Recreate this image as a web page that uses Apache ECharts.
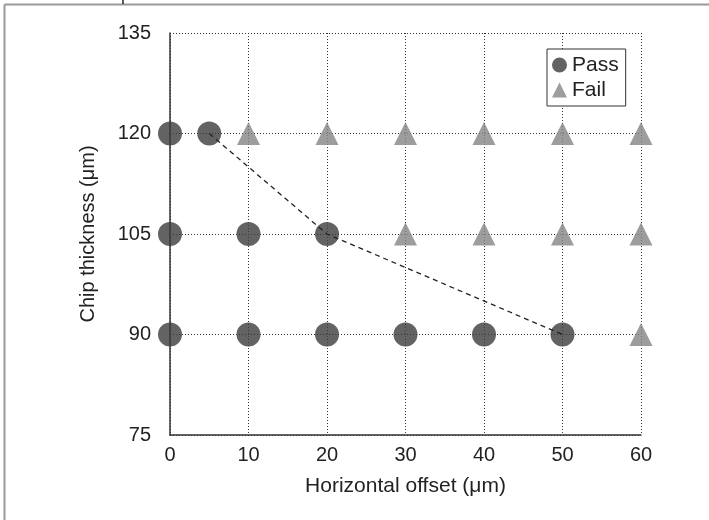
<!DOCTYPE html>
<html>
<head>
<meta charset="utf-8">
<script src="https://cdn.jsdelivr.net/npm/echarts@6/dist/echarts.min.js"></script>
<style>
html,body{margin:0;padding:0;background:#fff;}
#chart{width:709px;height:520px;}
</style>
</head>
<body>
<div id="chart"></div>
<script>
// Data
const xTicks = [0, 10, 20, 30, 40, 50, 60];
const yTicks = [75, 90, 105, 120, 135];
const passPoints = [[0,120],[5,120],[0,105],[10,105],[20,105],[0,90],[10,90],[20,90],[30,90],[40,90],[50,90]];
const failPoints = [[10,120],[20,120],[30,120],[40,120],[50,120],[60,120],[30,105],[40,105],[50,105],[60,105],[60,90]];
const boundary = [[5,120],[20,105],[50,90]];
const xTitle = 'Horizontal offset (\u03bcm)';
const yTitle = 'Chip thickness (\u03bcm)';

const font = '"Liberation Sans", Arial, Helvetica, sans-serif';
const chart = echarts.init(document.getElementById('chart'), null, {renderer:'canvas'});
chart.setOption({
  animation: false,
  backgroundColor: '#fff',
  textStyle: {fontFamily: font},
  grid: {left: 170, right: 68, top: 33, bottom: 85, containLabel: false},
  xAxis: {
    type: 'value', min: xTicks[0], max: xTicks[xTicks.length-1], interval: 10,
    name: xTitle, nameLocation: 'middle', nameGap: 41,
    nameTextStyle: {fontSize: 21, color: '#222', fontFamily: font},
    axisLine: {show: true, onZero: false, lineStyle: {color: '#333', width: 1.5}},
    axisTick: {show: false},
    axisLabel: {fontSize: 20, color: '#222', margin: 10, fontFamily: font},
    splitLine: {show: true, lineStyle: {color: '#333', width: 1, type: [1, 2]}}
  },
  yAxis: {
    type: 'value', min: yTicks[0], max: yTicks[yTicks.length-1], interval: 15,
    name: yTitle, nameLocation: 'middle', nameGap: 72, nameRotate: 90,
    nameTextStyle: {fontSize: 20, color: '#222', fontFamily: font},
    axisLine: {show: true, onZero: false, lineStyle: {color: '#333', width: 1.5}},
    axisTick: {show: false},
    axisLabel: {fontSize: 20, color: '#222', margin: 19, fontFamily: font},
    splitLine: {show: true, lineStyle: {color: '#333', width: 1, type: [1, 2]}}
  },
  legend: {
    orient: 'vertical', left: 547, top: 49,
    padding: [5, 7, 5, 5],
    itemGap: 3,
    itemWidth: 15, itemHeight: 15,
    backgroundColor: '#fff',
    borderColor: '#333', borderWidth: 1, borderRadius: 0,
    textStyle: {fontSize: 21, color: '#222', fontFamily: font, lineHeight: 22},
    data: [{name: 'Pass', icon: 'circle'}, {name: 'Fail', icon: 'triangle'}]
  },
  series: [
    {
      name: 'Pass', type: 'scatter', data: passPoints, symbol: 'circle', symbolSize: 24,
      itemStyle: {color: '#3c3c3c'}, z: 3
    },
    {
      name: 'Fail', type: 'scatter', data: failPoints, symbol: 'triangle', symbolSize: 23,
      itemStyle: {color: '#858585'}, z: 3
    },
    {
      name: 'boundary', type: 'line', data: boundary, symbol: 'none', silent: true,
      lineStyle: {color: '#222', width: 1.3, type: [5, 4]}, z: 5
    }
  ],
  graphic: [
    {type: 'line', shape: {x1: 4.5, y1: 4.5, x2: 709, y2: 4.5}, style: {stroke: '#999', lineWidth: 2}},
    {type: 'line', shape: {x1: 4.5, y1: 4.5, x2: 4.5, y2: 520}, style: {stroke: '#999', lineWidth: 2}},
    {type: 'line', shape: {x1: 123, y1: 0, x2: 123, y2: 4}, style: {stroke: '#222', lineWidth: 1.5}}
  ]
});
</script>
</body>
</html>
